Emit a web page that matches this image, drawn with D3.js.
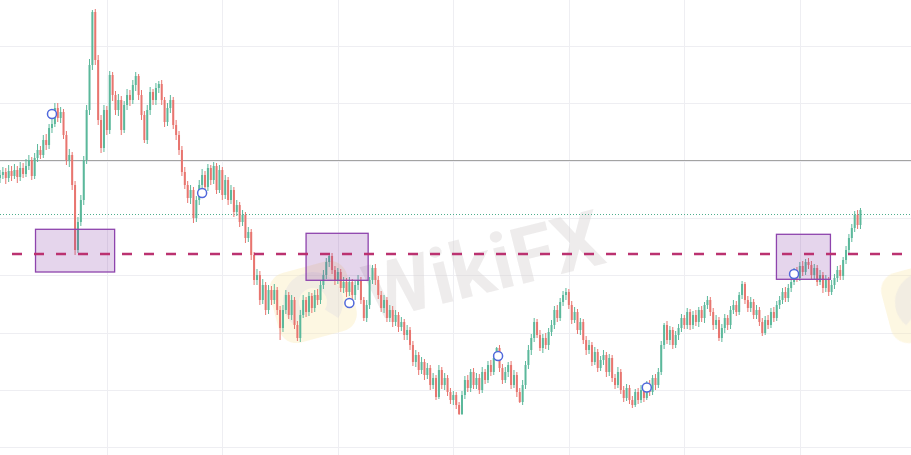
<!DOCTYPE html>
<html>
<head>
<meta charset="utf-8">
<script src="https://cdn.jsdelivr.net/npm/d3@7"></script>
<style>
    html, body { margin: 0; padding: 0; background: #fff; overflow: hidden; }
    .container { width: 911px; height: 455px; }
</style>
</head>
<body>
<script>
// candle closes (chart price units), open of each candle = previous close
const firstOpen = 277
const closes = [
    280, 283, 277, 284, 279, 285, 278, 287, 281, 289, 295, 279, 297, 305, 300, 315, 310, 327, 331, 347,
    337, 343, 320, 295, 300, 270, 205, 233, 255, 295, 345, 390, 443, 395, 335, 307, 345, 325, 380, 360,
    345, 355, 325, 350, 360, 355, 370, 379, 360, 340, 315, 345, 363, 355, 367, 371, 355, 333, 347, 355,
    330, 320, 305, 283, 270, 257, 265, 237, 255, 270, 280, 268, 287, 275, 289, 265, 285, 260, 275, 255,
    265, 243, 250, 233, 240, 217, 223, 200, 175, 180, 155, 170, 145, 165, 155, 165, 145, 127, 145, 160,
    140, 155, 130, 117, 140, 155, 143, 159, 147, 160, 155, 170, 180, 193, 199, 185, 175, 183, 167, 173,
    163, 173, 160, 170, 175, 155, 137, 150, 175, 187, 175, 160, 147, 155, 137, 145, 133, 140, 128, 133,
    120, 125, 110, 93, 100, 85, 93, 80, 87, 70, 77, 58, 85, 70, 77, 63, 55, 60, 50, 41,
    60, 75, 67, 83, 70, 77, 65, 83, 75, 90, 83, 97, 107, 87, 75, 83, 90, 70, 80, 63,
    53, 70, 90, 105, 117, 133, 120, 107, 117, 110, 123, 130, 145, 137, 153, 160, 163, 150, 135, 143,
    125, 133, 115, 105, 110, 93, 103, 87, 95, 100, 83, 97, 77, 70, 83, 65, 57, 67, 55, 50,
    63, 55, 65, 57, 70, 63, 77, 70, 83, 110, 130, 115, 125, 110, 120, 127, 137, 130, 143, 130,
    140, 133, 145, 137, 150, 155, 143, 130, 135, 117, 127, 137, 130, 145, 150, 143, 160, 171, 155, 147,
    153, 140, 145, 133, 122, 135, 130, 143, 137, 150, 155, 163, 157, 167, 173, 183, 177, 189, 183, 193,
    190, 180, 187, 173, 180, 167, 175, 163, 170, 177, 185, 179, 195, 205, 217, 227, 240, 230, 245
]
const highs = [
    285, 288, 287, 290, 289, 291, 289, 293, 292, 296, 300, 298, 302, 311, 309, 320, 321, 331, 338, 352,
    352, 348, 346, 324, 306, 303, 274, 238, 260, 299, 350, 396, 445, 446, 400, 340, 350, 349, 384, 383,
    364, 361, 359, 354, 366, 365, 375, 383, 381, 365, 344, 350, 368, 366, 372, 374, 375, 358, 352, 360,
    358, 335, 324, 309, 288, 274, 270, 268, 259, 275, 286, 284, 291, 290, 293, 292, 290, 288, 280, 278,
    270, 268, 255, 253, 245, 243, 228, 226, 203, 186, 184, 176, 173, 170, 169, 171, 168, 149, 150, 165,
    163, 160, 158, 134, 145, 160, 158, 163, 162, 165, 166, 174, 185, 197, 201, 202, 189, 187, 186, 178,
    177, 178, 176, 174, 180, 178, 158, 155, 178, 190, 191, 179, 164, 160, 158, 150, 149, 145, 143, 138,
    136, 130, 128, 114, 105, 103, 98, 96, 92, 90, 82, 80, 90, 88, 82, 80, 67, 64, 63, 53,
    64, 79, 80, 86, 87, 82, 81, 88, 86, 94, 95, 101, 108, 110, 91, 88, 93, 94, 85, 83,
    67, 75, 94, 110, 121, 137, 136, 125, 121, 122, 127, 135, 149, 150, 157, 164, 167, 166, 154, 148,
    146, 137, 136, 119, 115, 113, 108, 106, 99, 105, 103, 101, 100, 81, 88, 86, 69, 71, 70, 59,
    66, 67, 70, 68, 74, 75, 80, 81, 87, 114, 132, 134, 129, 128, 124, 131, 141, 140, 147, 146,
    144, 145, 148, 149, 153, 159, 158, 147, 140, 138, 131, 141, 140, 149, 155, 154, 163, 174, 173, 159,
    158, 156, 150, 148, 137, 139, 140, 147, 148, 154, 159, 167, 168, 171, 177, 187, 188, 193, 194, 196,
    197, 194, 191, 190, 185, 183, 180, 178, 175, 181, 189, 190, 198, 209, 221, 231, 244, 245, 247
]
const lows = [
    272, 276, 271, 273, 274, 276, 272, 274, 277, 278, 285, 275, 276, 293, 296, 297, 305, 306, 322, 328,
    333, 332, 316, 290, 288, 265, 200, 202, 229, 250, 291, 340, 385, 390, 330, 302, 303, 320, 321, 354,
    340, 339, 320, 322, 345, 349, 351, 364, 355, 335, 312, 311, 340, 350, 350, 362, 350, 328, 329, 342,
    326, 315, 300, 279, 266, 252, 251, 232, 233, 250, 266, 263, 264, 270, 271, 261, 262, 255, 256, 250,
    251, 238, 239, 228, 229, 212, 213, 195, 170, 170, 150, 151, 140, 141, 150, 151, 140, 115, 123, 141,
    136, 135, 126, 114, 113, 137, 138, 139, 142, 143, 150, 151, 166, 176, 188, 181, 170, 171, 163, 162,
    158, 159, 156, 155, 165, 151, 134, 133, 146, 171, 170, 156, 143, 142, 133, 133, 128, 129, 123, 124,
    115, 115, 105, 89, 88, 80, 81, 75, 76, 65, 66, 55, 56, 66, 65, 59, 51, 50, 46, 40,
    40, 56, 63, 63, 66, 66, 61, 62, 71, 72, 79, 80, 94, 83, 71, 72, 78, 66, 67, 58,
    52, 50, 66, 86, 100, 113, 117, 104, 102, 106, 105, 119, 126, 133, 134, 149, 155, 146, 131, 132,
    121, 120, 111, 100, 101, 89, 90, 83, 84, 90, 78, 79, 73, 66, 67, 61, 53, 54, 51, 47,
    48, 51, 52, 53, 55, 59, 60, 65, 67, 80, 106, 111, 110, 106, 107, 115, 123, 126, 126, 125,
    126, 129, 128, 133, 132, 146, 139, 125, 126, 114, 113, 122, 125, 126, 141, 139, 140, 156, 151, 143,
    143, 136, 136, 129, 119, 120, 126, 127, 133, 134, 146, 151, 153, 153, 163, 170, 173, 174, 179, 180,
    186, 176, 176, 169, 170, 162, 163, 159, 160, 166, 173, 175, 175, 191, 201, 213, 223, 226, 226
]

const priceTicks = [8, 65, 122, 180, 237, 294, 352, 409]
const timeTicks = [37, 77, 117, 157, 197, 237, 277]

const greyLevel = 294.5
const dottedLevel = 240.5
const dashedLevel = 201

// zones: [startIndex, endIndex, lowPrice, highPrice]
const zones = [
    [12.3, 39.7, 183, 225.7],
    [106, 127.5, 174.7, 221.7],
    [268.9, 287.6, 175.7, 220.7]
]
// markers: [index, price]
const markers = [
    [18, 341], [70, 262], [121, 152], [172.5, 99], [224, 67.5], [275, 181]
]

const candles = closes.map((c, i) => ({
    i: i,
    open: i === 0 ? firstOpen : closes[i - 1],
    close: c,
    high: highs[i],
    low: lows[i]
}))

const width = 911
const height = 455
const svg = d3.select('body').append('div')
    .attr('class', 'container')
    .append('svg')
    .attr('width', width)
    .attr('height', height)

const xScale = d3.scaleLinear()
    .domain([0, 315.5])
    .range([0, width])
const yScale = d3.scaleLinear()
    .domain([0, 455])
    .range([height, 0])

// grid
svg.append('g').selectAll('line')
    .data(priceTicks)
    .enter().append('line')
    .attr('x1', 0).attr('x2', width)
    .attr('y1', d => yScale(d) + 0.5).attr('y2', d => yScale(d) + 0.5)
    .attr('stroke', '#eeeef2')
svg.append('g').selectAll('line')
    .data(timeTicks)
    .enter().append('line')
    .attr('y1', 0).attr('y2', height)
    .attr('x1', d => Math.round(xScale(d)) + 0.5).attr('x2', d => Math.round(xScale(d)) + 0.5)
    .attr('stroke', '#eeeef2')

// watermark
const wm = svg.append('g').attr('opacity', 0.55)
function logo(g, cx, cy) {
    const lg = g.append('g').attr('transform', `translate(${cx},${cy}) rotate(-15)`)
    lg.append('rect')
        .attr('x', -40).attr('y', -36).attr('width', 80).attr('height', 72)
        .attr('rx', 18)
        .attr('fill', '#fbeab4')
        .attr('opacity', 0.7)
    lg.append('path')
        .attr('d', d3.arc()({ innerRadius: 14, outerRadius: 30, startAngle: -2.2, endAngle: 2.4 }))
        .attr('fill', '#d9d3cc')
        .attr('opacity', 0.6)
}
logo(wm, 313, 302)
logo(wm, 925, 302)
wm.append('text')
    .attr('transform', 'translate(490,292) rotate(-14)')
    .attr('text-anchor', 'middle')
    .attr('font-family', 'Roboto, sans-serif')
    .attr('font-weight', 700)
    .attr('font-size', 78)
    .attr('fill', '#d6d2d2')
    .attr('opacity', 0.75)
    .text('WikiFX')

// level lines
svg.append('line')
    .attr('x1', 0).attr('x2', width)
    .attr('y1', yScale(greyLevel)).attr('y2', yScale(greyLevel))
    .attr('stroke', '#a3a3a3')
    .attr('stroke-width', 1.2)
svg.append('line')
    .attr('x1', 0).attr('x2', width)
    .attr('y1', yScale(dottedLevel)).attr('y2', yScale(dottedLevel))
    .attr('stroke', '#4fae8e')
    .attr('stroke-width', 1)
    .attr('stroke-dasharray', '1,2')

// candles
const color = d => d.close >= d.open ? '#5bb89b' : '#e8756f'
const cg = svg.append('g')
cg.selectAll('line')
    .data(candles)
    .enter().append('line')
    .attr('x1', d => xScale(d.i)).attr('x2', d => xScale(d.i))
    .attr('y1', d => yScale(d.high)).attr('y2', d => yScale(d.low))
    .attr('stroke', color)
    .attr('stroke-width', 1)
cg.selectAll('rect')
    .data(candles)
    .enter().append('rect')
    .attr('x', d => xScale(d.i) - 1)
    .attr('width', 2)
    .attr('y', d => yScale(Math.max(d.open, d.close)))
    .attr('height', d => Math.max(1, Math.abs(yScale(d.open) - yScale(d.close))))
    .attr('fill', color)

// zones
svg.append('g').selectAll('rect')
    .data(zones)
    .enter().append('rect')
    .attr('x', d => xScale(d[0]))
    .attr('width', d => xScale(d[1]) - xScale(d[0]))
    .attr('y', d => yScale(d[3]))
    .attr('height', d => yScale(d[2]) - yScale(d[3]))
    .attr('fill', 'rgba(123, 47, 160, 0.2)')
    .attr('stroke', '#8e44ad')
    .attr('stroke-width', 1.3)

svg.append('line')
    .attr('x1', 12).attr('x2', width)
    .attr('y1', yScale(dashedLevel)).attr('y2', yScale(dashedLevel))
    .attr('stroke', '#bb3270')
    .attr('stroke-width', 2.5)
    .attr('stroke-dasharray', '10,12')

// markers
svg.append('g').selectAll('circle')
    .data(markers)
    .enter().append('circle')
    .attr('cx', d => xScale(d[0]))
    .attr('cy', d => yScale(d[1]))
    .attr('r', 4.5)
    .attr('fill', '#fff')
    .attr('stroke', '#5069dc')
    .attr('stroke-width', 1.5)
</script>
</body>
</html>
